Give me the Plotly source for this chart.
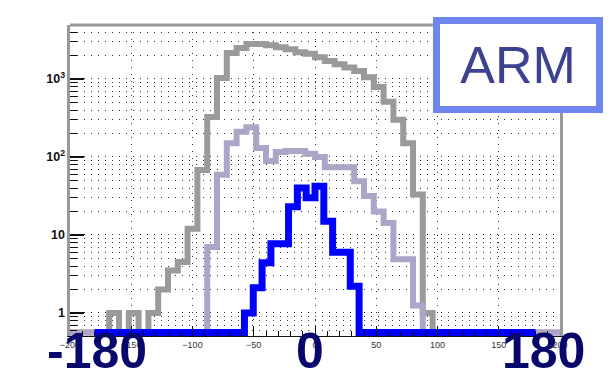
import numpy as np
import plotly.graph_objects as go

# ---------------- data ----------------
# gray and lavender histograms: 50 bins over [-200, 200]
wide_lo, wide_hi, wide_nbins = -200.0, 200.0, 50
# blue histogram: 50 bins over [-180, 180]
blue_lo, blue_hi, blue_nbins = -180.0, 180.0, 50

gray_counts = [0, 0, 0, 0, 1, 0, 1, 0, 1, 2,
               3.5, 4.5, 12, 68, 325, 1030, 2150, 2500, 2800, 2800,
               2700, 2550, 2400, 2200, 2100, 1900, 1700, 1550, 1400, 1270,
               1050, 790, 510, 300, 150, 33, 1, 0, 0, 0,
               0, 0, 0, 0, 0, 0, 0, 0, 0, 0]

lavender_counts = [0, 0, 0, 0, 0, 0, 0, 0, 0, 0,
                   0, 0, 0, 0, 7, 59, 150, 210, 240, 130,
                   89, 116, 119, 119, 110, 100, 74, 74, 74, 49,
                   31.6, 20, 14.2, 4.9, 4.9, 1.25, 0, 0, 0, 0,
                   0, 0, 0, 0, 0, 0, 0, 0, 0, 0]

blue_counts = [0, 0, 0, 0, 0, 0, 0, 0, 0, 0,
               0, 0, 0, 0, 0, 0, 0, 1, 2.1, 4.4,
               7.7, 7.7, 23, 40, 30, 42, 15, 6, 6, 2.2,
               0, 0, 0, 0, 0, 0, 0, 0, 0, 0,
               0, 0, 0, 0, 0, 0, 0, 0, 0, 0]

x_tick_values = [-200, -150, -100, -50, 0, 50, 100, 150, 200]
big_labels = ["-180", "0", "180"]
big_label_pos = [-180, 0, 180]
legend_text = "ARM"

# ---------------- helpers ----------------
y_log_min, y_log_max = -0.295, 3.692
floor_val = 10 ** (-0.25)   # empty bins are drawn on the bottom of the frame


def step_xy(lo, hi, counts):
    edges = np.linspace(lo, hi, len(counts) + 1)
    vals = [c if c > 0 else floor_val for c in counts]
    xs = [edges[0]] + list(edges)
    ys = [floor_val] + vals + [floor_val]
    return xs, ys


fig = go.Figure()
for counts, lo, hi, color, width in [
    (gray_counts, wide_lo, wide_hi, "#9a9a9a", 6),
    (lavender_counts, wide_lo, wide_hi, "#aca5c8", 6),
    (blue_counts, blue_lo, blue_hi, "#0000ff", 7),
]:
    xs, ys = step_xy(lo, hi, counts)
    fig.add_trace(go.Scatter(x=xs, y=ys, mode="lines",
                             line=dict(shape="hv", color=color, width=width),
                             showlegend=False, hoverinfo="skip"))

grid_dash = "1px,6px"
fig.update_xaxes(
    range=[wide_lo, wide_hi], tickvals=x_tick_values,
    ticks="inside", ticklen=10, tickcolor="#111", tickwidth=1,
    showgrid=True, gridcolor="#333", gridwidth=1, griddash=grid_dash,
    minor=dict(dtick=10, tick0=0, ticks="inside", ticklen=5, tickcolor="#111", showgrid=False),
    showline=True, linecolor="#111", linewidth=1, mirror=False,
    zeroline=False,
    tickfont=dict(family="Liberation Sans", size=9, color="#333"),
)
fig.update_yaxes(
    type="log", range=[y_log_min, y_log_max], dtick=1, exponentformat="power",
    ticks="inside", ticklen=14, tickcolor="#111", tickwidth=1.5,
    showgrid=True, gridcolor="#333", gridwidth=1, griddash=grid_dash,
    minor=dict(dtick="D1", ticks="inside", ticklen=7, tickcolor="#111", tickwidth=1.2,
               showgrid=True, gridcolor="#333", gridwidth=1, griddash=grid_dash),
    showline=True, linecolor="#999", linewidth=3, mirror=True,
    zeroline=False,
    tickfont=dict(family="Liberation Sans", size=10, color="#111", weight="bold"),
)

# top frame line
fig.add_shape(type="line", xref="paper", yref="paper", x0=0, x1=1, y0=1, y1=1,
              line=dict(color="#999", width=3), layer="above")

annotations = []
for txt, xv, xs_ in zip(big_labels, big_label_pos, [2, -5, 8]):
    annotations.append(dict(
        text=txt, x=xv, xref="x", y=-0.047, yref="paper",
        xanchor="center", yanchor="middle", showarrow=False, xshift=xs_,
        font=dict(family="Liberation Sans", size=50, color="#08086c", weight="bold"),
    ))
annotations.append(dict(
    text=legend_text, x=0.7408, y=1.0257, xref="paper", yref="paper",
    xanchor="left", yanchor="top", showarrow=False,
    width=156, height=82, borderwidth=7, borderpad=0,
    bordercolor="#6e86ee", bgcolor="white",
    font=dict(family="Liberation Sans", size=52, color="#3c4290"),
))

# the page adds an 8px body margin, so the figure is 8px smaller than the window
fig.update_layout(
    width=606, height=372,
    margin=dict(l=62, r=54, t=17, b=44),
    paper_bgcolor="white", plot_bgcolor="white",
    annotations=annotations,
)

fig.write_html("out.html")
